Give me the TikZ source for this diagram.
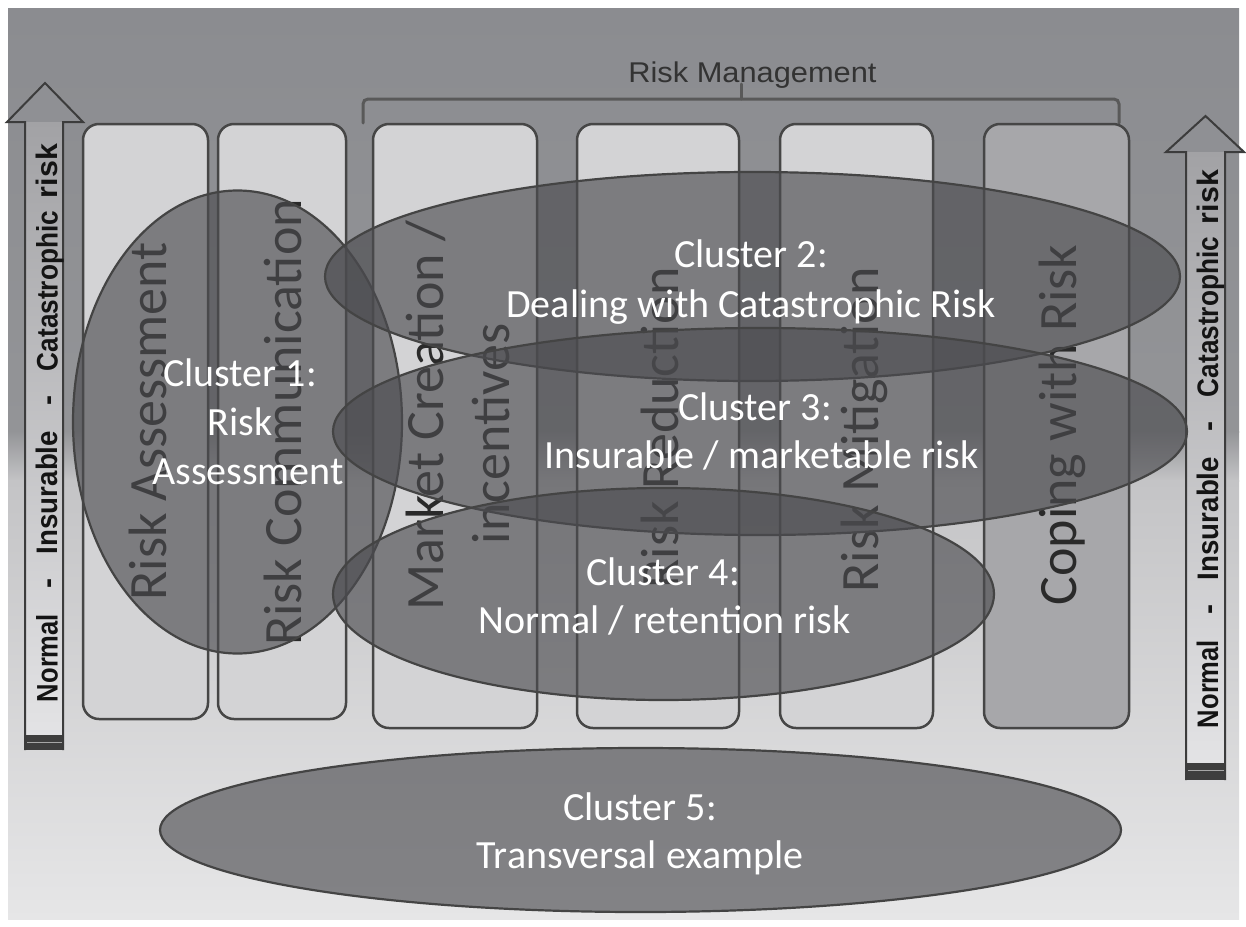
\documentclass[tikz,border=0pt]{standalone}
\usepackage{fontspec}
\setmainfont{Carlito}
\newfontfamily\arrowfont{Liberation Sans}
\usetikzlibrary{shapes.geometric}
\definecolor{bgA}{HTML}{8B8C90}
\definecolor{bgB}{HTML}{939497}
\definecolor{bgC}{HTML}{C4C4C6}
\definecolor{bgD}{HTML}{E6E6E7}
\definecolor{colfill}{HTML}{D3D3D5}
\definecolor{colfillB}{HTML}{A7A7AA}
\definecolor{colline}{HTML}{464646}
\definecolor{coltext}{HTML}{2A2A2A}
\definecolor{elfill}{HTML}{4B4B4F}
\definecolor{elline}{HTML}{444444}
\definecolor{arrline}{HTML}{3C3C3C}
\definecolor{arrhead}{HTML}{8F9094}
\definecolor{arrA}{HTML}{A2A2A5}
\definecolor{arrB}{HTML}{BBBBBD}
\definecolor{arrC}{HTML}{E3E3E5}
\definecolor{band}{HTML}{3E3E3E}
\definecolor{rmtext}{HTML}{333333}
\tikzset{
  colbox/.style={draw=colline, line width=2.5pt, fill=colfill, rounded corners=16pt, inner sep=0pt},
  coltxt/.style={rotate=90, anchor=base, text=coltext, font=\fontsize{54}{60}\selectfont, inner sep=0pt},
  clus/.style={ellipse, draw=elline, line width=2.2pt, fill=elfill, fill opacity=0.64, inner sep=0pt},
  cltxt/.style={anchor=base, text=white, font=\fontsize{40}{48}\selectfont, inner sep=0pt},
  arrtxt/.style={rotate=90, anchor=base, text=black!92, inner sep=0pt},
  arrout/.style={draw=arrline, line width=2pt, line join=miter},
  brace/.style={draw=colline!90, line cap=round}
}
\newcommand{\arrlabel}{{\arrowfont\bfseries\fontsize{30}{36}\selectfont
  \resizebox{88pt}{21.5pt}{Normal}\hspace{26pt}\scalebox{1}[1]{-}\hspace{24pt}%
  \resizebox{123pt}{21.5pt}{Insurable}\hspace{26pt}-\hspace{24pt}%
  \resizebox{160pt}{21.5pt}{Catastrophic}\hspace{13pt}%
  \resizebox{54pt}{21.5pt}{risk}}}
\begin{document}
\begin{tikzpicture}[x=1pt,y=-1pt]
\useasboundingbox (0,0) rectangle (1246,926);
\fill[white] (0,0) rectangle (1246,926);
% background panel
\shade[top color=bgA, bottom color=bgB] (8,8) rectangle (1239,432);
\shade[top color=bgB, bottom color=bgC] (8,431) rectangle (1239,481);
\shade[top color=bgC, bottom color=bgD] (8,480) rectangle (1239,919);

% left arrow
\fill[arrhead] (7,122) -- (45,83) -- (83,122) -- cycle;
\shade[top color=arrA, middle color=arrB, bottom color=arrC] (25,122) rectangle (63,736);
\fill[band] (25,735) rectangle (64,750);
\draw[gray!70, line width=1pt] (27,742) -- (62,742);
\draw[arrout] (25,750) -- (25,122) -- (7,122) -- (45,83) -- (83,122) -- (63,122) -- (63,750);
\node[arrtxt] (lt) at (57.5,423) {\arrlabel};

% right arrow
\fill[arrhead] (1166,152) -- (1205.5,116) -- (1244,152) -- cycle;
\shade[top color=arrA, middle color=arrB, bottom color=arrC] (1186,152) rectangle (1225,764);
\fill[band] (1186,763) rectangle (1226,780);
\draw[gray!70, line width=1pt] (1188,770) -- (1224,770);
\draw[arrout] (1186,780) -- (1186,152) -- (1166,152) -- (1205.5,116) -- (1244,152) -- (1225,152) -- (1225,780);
\node[arrtxt] (rt) at (1218,449) {\arrlabel};

% Risk Management bracket
\node[anchor=base, text=rmtext, inner sep=0pt] (rm) at (752.5,82) {\scalebox{1.1}[1.02]{\arrowfont\fontsize{28}{32}\selectfont Risk Management}};
\coordinate (bl) at (363,123);
\coordinate (br) at (1119,123);
\coordinate (bm) at (741,99);
\draw[brace, line width=3pt, rounded corners=5pt] (bl) -- (363,99) -- (1119,99) -- (br);
\draw[brace, line width=3pt] (bm) -- (741,84);

% columns
\node[colbox, minimum width=125pt, minimum height=595pt] (c1) at (145.5,421.5) {};
\node[colbox, minimum width=128pt, minimum height=595pt] (c2) at (282,421.5) {};
\node[colbox, minimum width=164pt, minimum height=604pt] (c3) at (455,426) {};
\node[colbox, minimum width=162pt, minimum height=604pt] (c4) at (658,426) {};
\node[colbox, minimum width=153pt, minimum height=604pt] (c5) at (856.5,426) {};
\node[colbox, fill=colfillB, minimum width=145pt, minimum height=604pt] (c6) at (1056.5,426) {};

\node[coltxt] (t1) at (166.5,421.5) {Risk Assessment};
\node[coltxt] (t2) at (301.5,422.5) {Risk Communication};
\node[coltxt] (t3a) at (443,416) {Market Creation /};
\node[coltxt] (t3b) at (509,434) {incentives};
\node[coltxt] (t4) at (678,428) {Risk Reduction};
\node[coltxt] (t5) at (878,430) {Risk Mitigation};
\node[coltxt] (t6) at (1076,425) {Coping with Risk};

% clusters
\node[clus, minimum width=329pt, minimum height=463pt] (e1) at (237.5,422) {};
\node[clus, minimum width=855pt, minimum height=209pt] (e2) at (752.5,276.5) {};
\node[clus, minimum width=854pt, minimum height=207pt] (e3) at (760,431.5) {};
\node[clus, minimum width=661pt, minimum height=212pt] (e4) at (663.5,594) {};
\node[clus, minimum width=961pt, minimum height=164pt] (e5) at (640.5,830) {};

\node[cltxt] (k1a) at (240,386) {Cluster 1:};
\node[cltxt] (k1b) at (240,435) {Risk};
\node[cltxt] (k1c) at (248,484) {Assessment};
\node[cltxt] (k2a) at (751,267) {Cluster 2:};
\node[cltxt] (k2b) at (751,317) {Dealing with Catastrophic Risk};
\node[cltxt] (k3a) at (755,420) {Cluster 3:};
\node[cltxt] (k3b) at (761.5,468) {Insurable / marketable risk};
\node[cltxt] (k4a) at (663,585) {Cluster 4:};
\node[cltxt] (k4b) at (664.5,633) {Normal / retention risk};
\node[cltxt] (k5a) at (640,820) {Cluster 5:};
\node[cltxt] (k5b) at (640,868) {Transversal example};
\end{tikzpicture}
\end{document}
